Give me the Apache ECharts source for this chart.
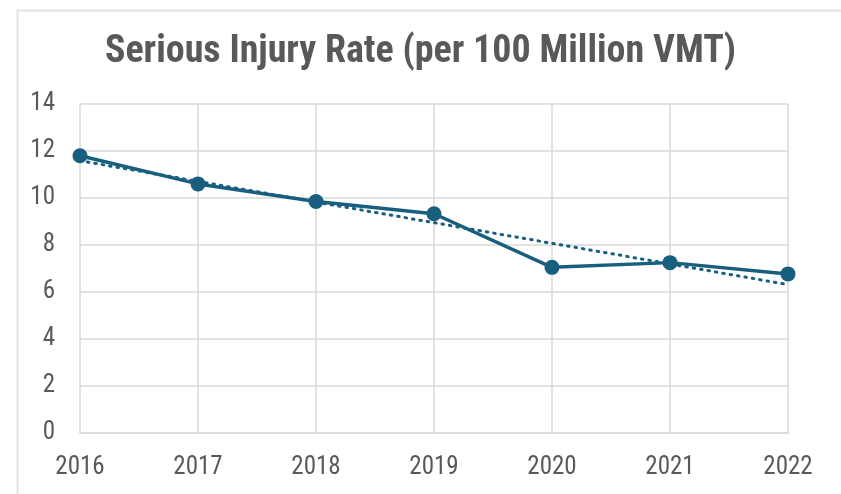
<!DOCTYPE html>
<html>
<head>
<meta charset="utf-8">
<script src="https://cdn.jsdelivr.net/npm/echarts@6/dist/echarts.min.js"></script>
<style>
  html, body { margin: 0; padding: 0; background: #ffffff; }
  #chart { width: 841px; height: 494px; }
</style>
</head>
<body>
<div id="chart"></div>
<script>
// Serious injury rate per 100 million vehicle miles travelled
const years = ['2016', '2017', '2018', '2019', '2020', '2021', '2022'];
const injuryRate = [11.8, 10.6, 9.85, 9.33, 7.05, 7.25, 6.77];
const yTicks = { min: 0, max: 14, interval: 2 };

// Least-squares linear trend over the yearly rates
function linearTrend(values) {
  const n = values.length;
  const mx = (n - 1) / 2;
  const my = values.reduce((a, b) => a + b, 0) / n;
  let sxy = 0, sxx = 0;
  values.forEach((v, i) => { sxy += (i - mx) * (v - my); sxx += (i - mx) * (i - mx); });
  const slope = sxy / sxx;
  return values.map((_, i) => +(my + slope * (i - mx)).toFixed(3));
}
const trend = linearTrend(injuryRate);

const lineColor = '#175e7f';
const textColor = '#595959';
const gridColor = '#d9d9d9';
const fontFamily = '"Roboto Condensed", "Liberation Sans Narrow", "Roboto", sans-serif';

const chart = echarts.init(document.getElementById('chart'), null, { renderer: 'canvas' });
chart.setOption({
  backgroundColor: '#ffffff',
  animation: false,
  graphic: [{
    type: 'rect',
    left: 15, top: 8,
    shape: { width: 900, height: 600 },
    style: { fill: 'none', stroke: '#e3e3e3', lineWidth: 2 },
    silent: true
  }],
  title: {
    text: 'Serious Injury Rate (per 100 Million VMT)',
    left: 'center',
    top: 28,
    padding: [5, 5, 5, 25],
    textStyle: { color: textColor, fontSize: 38, fontWeight: 'bold', fontFamily: fontFamily }
  },
  grid: { left: 80, right: 53, top: 104, bottom: 61, containLabel: false },
  xAxis: {
    type: 'category',
    data: years,
    boundaryGap: false,
    axisLine: { show: true, lineStyle: { color: gridColor, width: 1.5 } },
    axisTick: { show: false },
    splitLine: { show: true, lineStyle: { color: gridColor, width: 1.5 } },
    axisLabel: { color: textColor, fontSize: 25, fontFamily: fontFamily, margin: 22 }
  },
  yAxis: {
    type: 'value',
    min: yTicks.min, max: yTicks.max, interval: yTicks.interval,
    axisLine: { show: false },
    axisTick: { show: false },
    splitLine: { lineStyle: { color: gridColor, width: 1.5 } },
    axisLabel: { color: textColor, fontSize: 25, fontFamily: fontFamily, margin: 25 }
  },
  series: [
    {
      name: 'Trend',
      type: 'line',
      data: trend,
      symbol: 'none',
      lineStyle: { color: lineColor, width: 3, type: [1.5, 6], cap: 'round' },
      z: 2
    },
    {
      name: 'Serious Injury Rate',
      type: 'line',
      data: injuryRate,
      symbol: 'circle',
      symbolSize: 15,
      itemStyle: { color: lineColor },
      lineStyle: { color: lineColor, width: 3.5 },
      z: 3
    }
  ]
});
</script>
</body>
</html>
